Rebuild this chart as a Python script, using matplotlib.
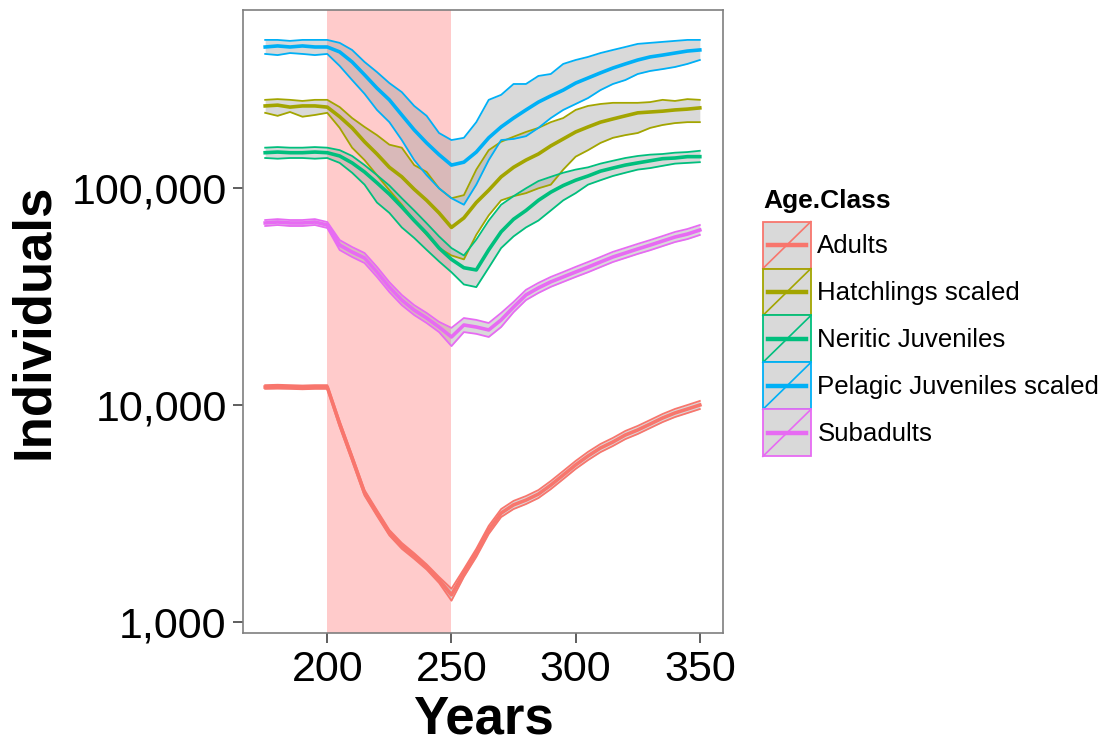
import numpy as np
import matplotlib
matplotlib.use("Agg")
import matplotlib.pyplot as plt
from matplotlib.legend_handler import HandlerBase
from matplotlib.lines import Line2D
from matplotlib.patches import Rectangle
from matplotlib.ticker import FixedLocator, NullLocator

plt.rcParams["font.family"] = ["Liberation Sans", "DejaVu Sans"]

years = np.arange(175, 351, 5)

# mean and envelope per age class (individuals)
adults_mid = [12100, 12150, 12100, 12050, 12100, 12100, 8170, 5690, 3930, 3170, 2570, 2240, 2010, 1790, 1560, 1330,
              1680, 2080, 2650, 3170, 3460, 3640, 3880, 4270, 4750, 5290, 5820, 6330, 6750, 7270, 7670, 8170, 8710,
              9190, 9580, 10000]
adults_hi = [12350, 12400, 12350, 12300, 12350, 12350, 8420, 5860, 4050, 3270, 2650, 2310, 2070, 1840, 1610, 1420,
             1750, 2170, 2770, 3310, 3610, 3800, 4050, 4460, 4960, 5520, 6080, 6610, 7050, 7590, 8010, 8530, 9090,
             9590, 10000, 10440]
adults_lo = [11870, 11900, 11870, 11820, 11870, 11870, 7930, 5520, 3820, 3080, 2500, 2170, 1950, 1740, 1510, 1250,
             1610, 1990, 2540, 3040, 3310, 3490, 3720, 4090, 4550, 5070, 5570, 6060, 6470, 6960, 7350, 7830, 8340,
             8800, 9180, 9580]

hatch_mid = [240000, 242000, 237000, 240000, 240000, 237000, 214000, 190000, 164000, 144000, 125000, 113000, 99000,
             88000, 77000, 66000, 73000, 86000, 98000, 113000, 125000, 135000, 144000, 157000, 169000, 182000,
             192000, 202000, 209000, 216000, 223000, 225000, 227000, 230000, 232000, 235000]
hatch_hi = [256000, 258000, 256000, 253000, 256000, 256000, 237000, 211000, 192000, 176000, 159000, 154000, 128000,
            119000, 100000, 90000, 93000, 122000, 150000, 164000, 173000, 182000, 190000, 202000, 211000, 230000,
            240000, 245000, 248000, 248000, 248000, 250000, 256000, 253000, 258000, 256000]
hatch_lo = [223000, 216000, 225000, 214000, 218000, 223000, 190000, 154000, 135000, 115000, 98000, 84000, 71000,
            61000, 53000, 49000, 47000, 61000, 75000, 88000, 92000, 95000, 100000, 104000, 122000, 140000, 150000,
            162000, 171000, 176000, 180000, 190000, 196000, 200000, 202000, 202000]

neritic_mid = [146000, 147000, 146000, 146000, 147000, 146000, 141000, 131000, 119000, 106000, 94000, 82000, 71000,
               62000, 53000, 47000, 43000, 42000, 52000, 63000, 72000, 79000, 88000, 96000, 103000, 109000, 114000,
               120000, 124000, 128000, 131000, 134000, 137000, 138000, 140000, 140000]
neritic_hi = [154000, 155000, 154000, 154000, 155000, 154000, 150000, 141000, 128000, 115000, 103000, 90000, 79000,
              69000, 60000, 53000, 49000, 58000, 71000, 84000, 92000, 100000, 108000, 113000, 118000, 122000, 125000,
              130000, 134000, 138000, 141000, 143000, 144000, 146000, 147000, 149000]
neritic_lo = [138000, 137000, 138000, 138000, 137000, 138000, 131000, 118000, 104000, 86000, 77000, 66000, 59000,
              52000, 46000, 41000, 36000, 35000, 43000, 53000, 60000, 66000, 71000, 79000, 88000, 95000, 104000,
              109000, 114000, 118000, 122000, 124000, 127000, 130000, 131000, 132000]

pelagic_mid = [449000, 454000, 449000, 454000, 449000, 449000, 426000, 383000, 334000, 290000, 256000, 218000, 186000,
               162000, 143000, 128000, 132000, 147000, 171000, 192000, 211000, 230000, 250000, 267000, 284000, 306000,
               323000, 341000, 359000, 375000, 391000, 404000, 412000, 421000, 430000, 435000]
pelagic_hi = [484000, 484000, 479000, 484000, 484000, 484000, 469000, 435000, 383000, 344000, 306000, 278000, 240000,
              216000, 180000, 167000, 171000, 202000, 256000, 270000, 303000, 303000, 330000, 337000, 375000, 391000,
              404000, 421000, 435000, 449000, 464000, 469000, 474000, 479000, 484000, 484000]
pelagic_lo = [417000, 412000, 421000, 417000, 412000, 417000, 367000, 316000, 273000, 230000, 202000, 167000, 135000,
              115000, 100000, 90000, 84000, 104000, 135000, 167000, 169000, 174000, 190000, 211000, 230000, 245000,
              261000, 284000, 303000, 316000, 337000, 348000, 355000, 363000, 375000, 391000]

sub_mid = [69200, 69900, 69200, 69200, 69900, 67700, 54700, 50800, 47700, 41100, 35000, 30500, 27400, 25200, 22900,
           20600, 23400, 22900, 22200, 24700, 28300, 32200, 34700, 37000, 39000, 41100, 43300, 45700, 48200, 50300,
           52500, 54700, 57100, 59600, 61500, 64200]
sub_hi = [71400, 72100, 71400, 71400, 72100, 69900, 57700, 53600, 50300, 43400, 36900, 32200, 28900, 26600, 24200,
          22700, 25200, 24700, 23900, 26600, 29900, 34000, 36600, 39000, 41100, 43400, 45700, 48200, 50900, 53100,
          55400, 57700, 60200, 62900, 64900, 67700]
sub_lo = [67000, 67700, 67000, 67000, 67700, 65600, 51900, 48200, 45200, 39000, 33200, 28900, 26000, 23900, 21700,
          18700, 21700, 21300, 20600, 22900, 26800, 30500, 32900, 35100, 37000, 39000, 41000, 43300, 45700, 47700,
          49800, 51800, 54100, 56500, 58300, 60900]

classes = ["Adults", "Hatchlings scaled", "Neritic Juveniles", "Pelagic Juveniles scaled", "Subadults"]
colors = ["#F8766D", "#A3A500", "#00BF7D", "#00B0F6", "#E76BF3"]
series = [
    (adults_lo, adults_mid, adults_hi),
    (hatch_lo, hatch_mid, hatch_hi),
    (neritic_lo, neritic_mid, neritic_hi),
    (pelagic_lo, pelagic_mid, pelagic_hi),
    (sub_lo, sub_mid, sub_hi),
]

harvest_start, harvest_end = 200, 250


class RibbonKey(HandlerBase):
    # grey box with coloured outline, diagonal and mean line, like a ribbon+line key
    def create_artists(self, legend, orig_handle, xdescent, ydescent, width, height, fontsize, trans):
        c = orig_handle.get_color()
        x0, y0 = -xdescent, -ydescent
        box = Rectangle((x0, y0), width, height, facecolor="#D9D9D9", edgecolor=c, lw=1.3, transform=trans)
        diag = Line2D([x0, x0 + width], [y0, y0 + height], color=c, lw=1.2, transform=trans)
        mean = Line2D([x0 + 0.1 * width, x0 + 0.9 * width], [y0 + height / 2] * 2, color=c, lw=3.2,
                      transform=trans)
        return [box, diag, mean]


fig = plt.figure(figsize=(11.04, 7.42), dpi=100)
ax = fig.add_axes([0.2204, 0.1465, 0.4342, 0.84])

ax.axvspan(harvest_start, harvest_end, color="#FFCBCB", lw=0, zorder=0)

for (lo, mid, hi), c in zip(series, colors):
    ax.fill_between(years, lo, hi, color="#A0A0A0", alpha=0.4, lw=0)
    ax.plot(years, lo, color=c, lw=1.3)
    ax.plot(years, hi, color=c, lw=1.3)
    ax.plot(years, mid, color=c, lw=2.6)

ax.set_yscale("log")
ax.set_xlim(166.2, 359.2)
ax.set_ylim(884, 665000)
ax.xaxis.set_major_locator(FixedLocator([200, 250, 300, 350]))
ax.yaxis.set_major_locator(FixedLocator([1000, 10000, 100000]))
ax.yaxis.set_minor_locator(NullLocator())
ax.set_yticklabels(["1,000", "10,000", "100,000"])

ax.tick_params(length=7, width=1.1, color="#333333", labelsize=31, pad=5, labelcolor="black")
for s in ax.spines.values():
    s.set_color("#7F7F7F")
    s.set_linewidth(1.2)

ax.set_xlabel("Years", fontsize=38, fontweight="bold", labelpad=3)
ax.set_ylabel("Individuals", fontsize=38, fontweight="bold", labelpad=9)

handles = [Line2D([], [], color=c) for c in colors]
leg = fig.legend(handles, classes, handler_map={Line2D: RibbonKey()}, title="Age.Class",
                 loc="upper left", bbox_to_anchor=(0.691, 0.745), frameon=False, fontsize=18.6,
                 title_fontproperties={"weight": "bold", "size": 19}, handlelength=1.86, handleheight=2.42,
                 labelspacing=0, handletextpad=0.25, borderpad=0, borderaxespad=0, alignment="left")
leg._legend_box.sep = 6

fig.savefig("out.png", dpi=100)
